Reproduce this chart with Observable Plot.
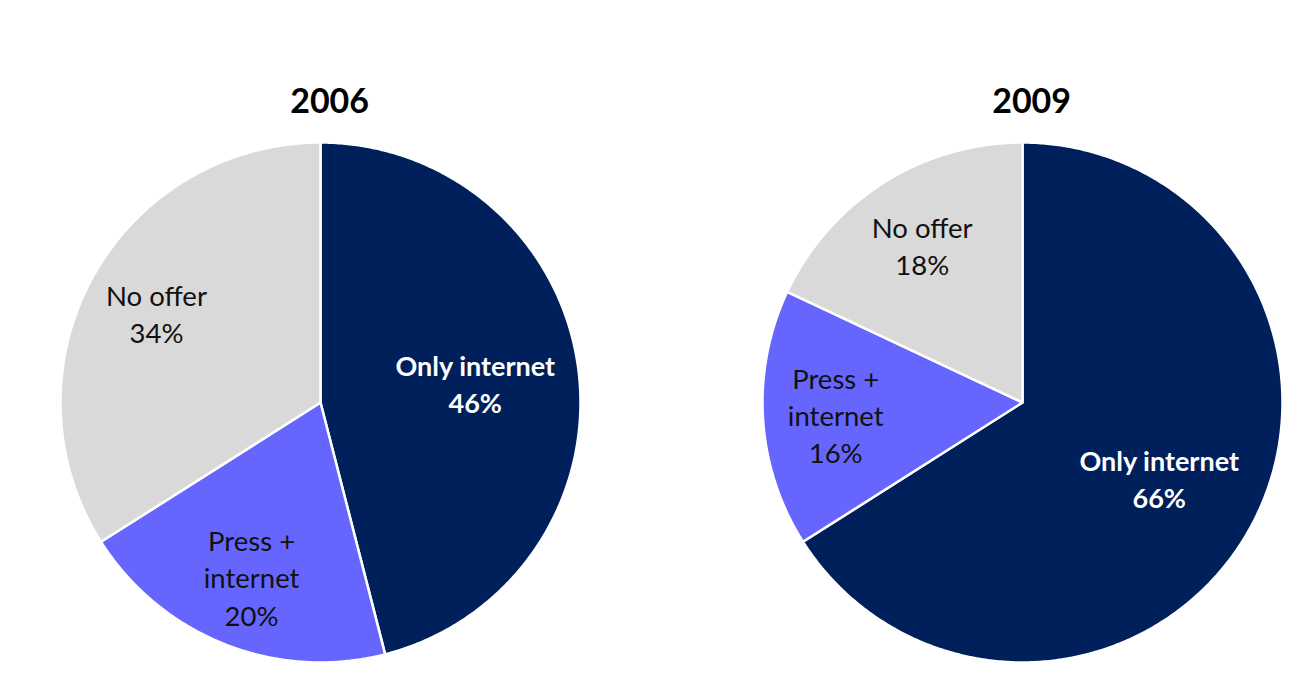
<!DOCTYPE html>
<html>
<head>
<meta charset="utf-8">
<script src="https://cdn.jsdelivr.net/npm/d3@7"></script>
<script src="https://cdn.jsdelivr.net/npm/@observablehq/plot@0.6"></script>
<style>
  html, body { margin: 0; padding: 0; background: #ffffff; }
  #chart { width: 1300px; height: 686px; }
</style>
</head>
<body>
<div id="chart"></div>
<script>
// ---- data ----
const years = ["2006", "2009"];
const categories = ["Only internet", "Press + internet", "No offer"];
const categoryLines = ["Only internet", "Press +\ninternet", "No offer"];
const shares2006 = [46, 20, 34];
const shares2009 = [66, 16, 18];
const colors = ["#00205b", "#6666ff", "#d9d9d9"];

// ---- build slice polygons & labels ----
const sharesByYear = {"2006": shares2006, "2009": shares2009};
const slicePoints = [];
const labels = [];
for (const year of years) {
  const arcs = d3.pie().sort(null).value(d => d)(sharesByYear[year]);
  arcs.forEach((a, i) => {
    const key = year + "-" + i;
    slicePoints.push({year, key, category: categories[i], x: 0, y: 0});
    const n = Math.max(2, Math.ceil((a.endAngle - a.startAngle) / (Math.PI / 360)));
    for (let k = 0; k <= n; ++k) {
      const t = a.startAngle + (a.endAngle - a.startAngle) * k / n;
      slicePoints.push({year, key, category: categories[i], x: Math.sin(t), y: Math.cos(t)});
    }
    const mid = (a.startAngle + a.endAngle) / 2;
    const r = i === 0 ? 0.6 : 0.72;
    labels.push({
      year, category: categories[i], idx: i,
      text: categoryLines[i] + "\n" + a.data + "%",
      x: r * Math.sin(mid), y: r * Math.cos(mid)
    });
  });
}

const R = 1.0385;
const chart = Plot.plot({
  width: 1300,
  height: 686,
  marginLeft: 50,
  marginRight: 8,
  marginTop: 132,
  marginBottom: 14,
  style: {fontFamily: "Lato, 'Open Sans', sans-serif", background: "#ffffff"},
  facet: {marginTop: 0, marginBottom: 0, marginLeft: 0, marginRight: 0},
  fx: {domain: years, paddingInner: 162 / 702, paddingOuter: 0, axis: null},
  x: {domain: [-R, R], axis: null},
  y: {domain: [-R, R], axis: null},
  color: {domain: categories, range: colors},
  marks: [
    Plot.line(slicePoints, {
      x: "x", y: "y", z: "key", fx: "year",
      fill: "category", stroke: "white", strokeWidth: 2.5,
      strokeLinejoin: "round", curve: "linear-closed"
    }),
    Plot.text(labels, {
      filter: d => d.idx === 0,
      x: "x", y: "y", fx: "year", text: "text",
      fill: "#ffffff", fontWeight: "bold",
      fontSize: 27, lineHeight: 1.35
    }),
    Plot.text(labels, {
      filter: d => d.idx !== 0,
      x: "x", y: "y", fx: "year", text: "text",
      fill: "#111111", fontWeight: "normal",
      fontSize: 27.5, lineHeight: 1.35
    }),
    Plot.text(years, {
      fx: d => d, x: () => 0.035, y: () => 1.155, text: d => d,
      fontSize: 34, fontWeight: "bold", fill: "#000"
    })
  ]
});
document.getElementById("chart").appendChild(chart);
</script>
</body>
</html>
